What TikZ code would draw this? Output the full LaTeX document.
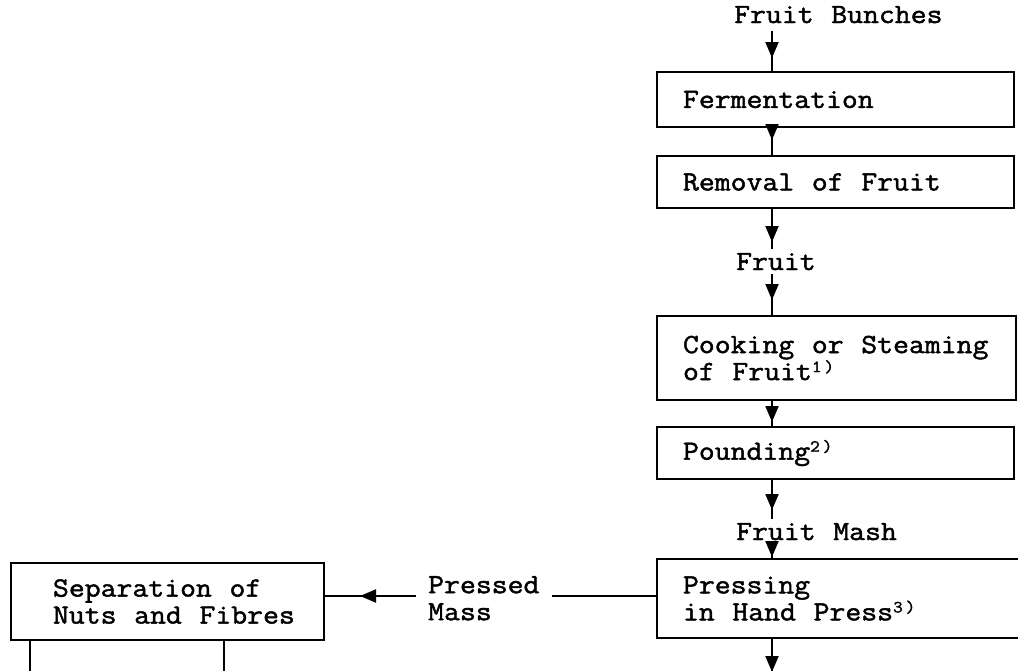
\documentclass[tikz,border=0pt]{standalone}
\usepackage{fontspec}
\setmonofont[FakeStretch=1.11, WordSpace=1.11, FakeBold=1.6]{Latin Modern Mono}
\usetikzlibrary{arrows.meta,decorations.markings}
\newcommand\ind{\spaceskip=0pt\xspaceskip=0pt\hspace*{26pt}}
\newcommand\indb{\spaceskip=0pt\xspaceskip=0pt\hspace*{42pt}}
\newcommand\fnm[1]{{\fontsize{17}{17}\selectfont\raisebox{8pt}{#1\,)}}}
\begin{document}
\begin{tikzpicture}[x=1pt,y=-1pt,
  txt/.style={font=\ttfamily\fontsize{27.8}{27}\selectfont},
  pbox/.style={txt, draw, line width=2pt, anchor=north west, inner xsep=0pt, inner ysep=0pt, text width=#1, align=left},
  lbl/.style={txt, inner sep=4pt},
  conn/.style={line width=2pt},
  tri/.style={postaction={decorate}, decoration={markings, mark=at position #1 with {\arrow{Triangle[length=16pt,width=13pt]}}}}]
\clip (0,0) rectangle (1018,670);
\fill[white] (0,0) rectangle (1018,670);
\coordinate (c) at (772,0);
\node[lbl, anchor=base west] (fb) at (730,23) {Fruit Bunches};
\node[pbox=357pt, minimum height=55pt] (ferm) at (656,71) {\ind Fermentation};
\node[pbox=357pt, minimum height=52pt] (rem) at (656,155) {\ind Removal of Fruit};
\node[lbl, anchor=base west] (fr) at (732,270) {Fruit};
\node[pbox=359pt, minimum height=84pt] (cook) at (656,315) {\ind Cooking or Steaming\\\ind of Fruit\fnm{1}};
\node[pbox=357pt, minimum height=52pt] (pound) at (656,426) {\ind Pounding\fnm{2}};
\node[lbl, anchor=base west] (fm) at (732,540) {Fruit Mash};
\node[pbox=420pt, minimum height=79pt] (press) at (656,558) {\ind Pressing\\\ind in Hand Press\fnm{3}};
\node[pbox=313pt, minimum height=77pt] (sep) at (10,562) {\indb Separation of\\\indb Nuts and Fibres};
\node[txt, anchor=north west, align=left, inner xsep=12pt, inner ysep=0pt] (pm) at (416,576) {\spaceskip=0pt Pressed\\Mass};
\coordinate (ly) at (0,596);
\draw[conn] (ly -| press.west) -- (ly -| pm.east);
\draw[conn, tri=56pt] (ly -| pm.west) -- (ly -| sep.east);
\draw[conn, tri=-13pt] ([yshift=-4pt]fb.south -| c) -- (ferm.north -| c);
\draw[conn, tri=-15pt] (ferm.south -| c) -- (rem.north -| c);
\draw[conn, tri=33pt] (rem.south -| c) -- (fr.north -| c);
\draw[conn, tri=-15pt] (fr.south -| c) -- (cook.north -| c);
\draw[conn, tri=-4pt] (cook.south -| c) -- (pound.north -| c);
\draw[conn, tri=30pt] (pound.south -| c) -- (fm.north -| c);
\draw[conn, tri=-1pt] (fm.south -| c) -- (press.north -| c);
\coordinate (out) at (772,700);
\draw[conn, tri=33pt] (press.south -| c) -- (out);
\coordinate (l1) at (30,700);
\coordinate (l2) at (224,700);
\draw[conn] (sep.south -| l1) -- (l1);
\draw[conn] (sep.south -| l2) -- (l2);
\end{tikzpicture}
\end{document}
